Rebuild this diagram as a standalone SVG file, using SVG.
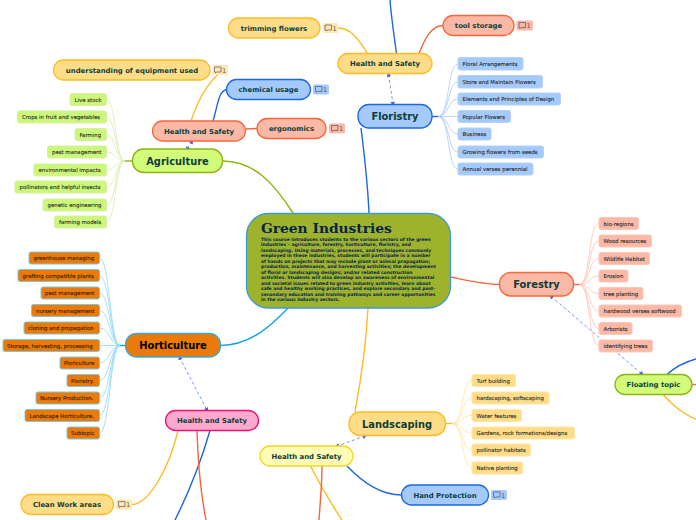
<svg xmlns="http://www.w3.org/2000/svg" width="696" height="520" viewBox="0 0 696 520">
<style>
text{font-family:"DejaVu Sans",Verdana,sans-serif;text-anchor:middle;fill:#0b3d3a}
.m{font-size:6.900px;font-weight:700}
.s{font-size:5.400px;fill:#2a2a2a;text-anchor:start;stroke:#2a2a2a;stroke-width:.1}
#hort-subs .s{fill:#3a1a00;stroke:#3a1a00}
.h{font-size:9.900px;font-weight:700}
.n{stroke-width:1.300}
.sub{stroke-width:1;rx:2}
.c{fill:none;stroke-width:1.400}
.t{fill:none;stroke-width:.8}
.d{fill:none;stroke:#5a78f5;stroke-width:.8;stroke-dasharray:3 2.500;marker-start:url(#a);marker-end:url(#a)}
.b{font-size:6.600px;text-anchor:start;fill:#556}
.y{fill:#ffdd88;stroke:#ffbb22}
.r{fill:#f9b9a6;stroke:#f9653a}
.u{fill:#a4c9fb;stroke:#1c68e0}
.g{fill:#d3fb7a;stroke:#8ab512}
.gs{fill:#cdf77a;stroke:#d6efa0}
.us{fill:#a4c9fb;stroke:#b4d0fb}
.rs{fill:#f9b9a6;stroke:#fbc8b8}
.ys{fill:#ffdd88;stroke:#ffe5a6}
.os{fill:#ea7a0a;stroke:#7cc6de}
.dt{text-anchor:start;fill:#0a1f52}
</style>
<defs>
<marker id="a" viewBox="0 0 6 6" refX="3" refY="3" markerWidth="4.500" markerHeight="4.500" orient="auto-start-reverse" markerUnits="userSpaceOnUse"><path d="M0 0L6 3L0 6Z" fill="#3f5ff0"/></marker>
<g id="ic"><path d="M1.500 1h6.500v5h-4.500l-1 1v-1h-1z" fill="none" stroke="#556" stroke-width=".7"/></g>
</defs>
<g id="connectors">
<g class="c">
<path stroke="#8ab512" d="M222.500 161C255 161 275 185 293 213"/>
<path stroke="#1c68e0" d="M361 128C365 160 368 190 369 213"/>
<path stroke="#12a5e6" d="M220.500 345.500C250 345.500 272 325 288 308"/>
<path stroke="#ffbb22" d="M355 412C360 385 366 345 368 308"/>
<path stroke="#f9653a" d="M450.500 277C470 281 485 284.500 499.500 284.500"/>
<path stroke="#1c68e0" d="M396.500 53.500C394 35 391 15 390 0"/>
<path stroke="#ffbb22" d="M367.500 53.500C358 38 350 28 338 28"/>
<path stroke="#f9653a" d="M419 53.500C425 38 432 25.500 443 25.500"/>
<path stroke="#ffbb22" d="M191 121C198 100 208 82 221 72"/>
<path stroke="#1c68e0" d="M213 121C218 105 218 92 226.500 89.500"/>
<path stroke="#f9653a" d="M245.500 129L257 128.500"/>
<path stroke="#ffbb22" d="M178 430.500C170 465 150 504 132 504.500"/>
<path stroke="#1c68e0" d="M210 430.500C200 465 190 490 175 520"/>
<path stroke="#f9653a" d="M197 430.500C198 465 201 495 206 520"/>
<path stroke="#ffbb22" d="M310.500 466C320 485 332 505 342 520"/>
<path stroke="#f9653a" d="M322 466C322 485 320 505 319 520"/>
<path stroke="#1c68e0" d="M347 466C365 485 382 495 401.500 495"/>
<path stroke="#1c68e0" d="M667 374.500C675 367 685 362 696 359"/>
<path stroke="#f9653a" d="M692 384.500H696"/>
<path stroke="#ffbb22" d="M663 394.500C672 405 685 415 696 419"/>
</g>
<g class="t" stroke="#d5ecb0">
<path d="M125 161C115 161 116 99.500 106.500 99.500M125 161C115 161 116 117 106.500 117M125 161C115 161 116 134.500 106.500 134.500M125 161C115 161 116 152 106.500 152M125 161C115 161 116 170 106.500 170M125 161C115 161 116 187 106.500 187M125 161C115 161 116 205 106.500 205M125 161C115 161 116 222 106.500 222"/>
<path stroke="#8ab512" stroke-width="1.400" d="M125 161H132.500"/>
</g>
<g class="t" stroke="#8fd8f6">
<path d="M120 345.500C110 345.500 110 258 99.500 258M120 345.500C110 345.500 110 275.500 99.500 275.500M120 345.500C110 345.500 110 293 99.500 293M120 345.500C110 345.500 110 310.500 99.500 310.500M120 345.500C110 345.500 110 328 99.500 328M120 345.500H99.500M120 345.500C110 345.500 110 363 99.500 363M120 345.500C110 345.500 110 380.500 99.500 380.500M120 345.500C110 345.500 110 398 99.500 398M120 345.500C110 345.500 110 415.500 99.500 415.500M120 345.500C110 345.500 110 433 99.500 433"/>
<path stroke="#12a5e6" stroke-width="1.400" d="M120 345.500H125.500"/>
</g>
<g class="t" stroke="#a9c9f6">
<path d="M438 116.500C450 116.500 447 64 458 64M438 116.500C450 116.500 447 82 458 82M438 116.500C450 116.500 447 99 458 99M438 116.500H458M438 116.500C450 116.500 447 134 458 134M438 116.500C450 116.500 447 152 458 152M438 116.500C450 116.500 447 169 458 169"/>
<path stroke="#1c68e0" stroke-width="1.400" d="M432 116.500H438"/>
</g>
<g class="t" stroke="#ffe2a0">
<path d="M452 423.500C464 423.500 461 380.500 472 380.500M452 423.500C464 423.500 461 398 472 398M452 423.500C464 423.500 461 415.500 472 415.500M452 423.500C464 423.500 461 433 472 433M452 423.500C464 423.500 461 450 472 450M452 423.500C464 423.500 461 468 472 468"/>
<path stroke="#ffbb22" stroke-width="1.400" d="M445.500 423.500H452"/>
</g>
<g class="t" stroke="#fbc4b2">
<path d="M579 284.500C591 284.500 588 223.500 599 223.500M579 284.500C591 284.500 588 241 599 241M579 284.500C591 284.500 588 258.500 599 258.500M579 284.500C591 284.500 588 276 599 276M579 284.500C591 284.500 588 293.500 599 293.500M579 284.500C591 284.500 588 311 599 311M579 284.500C591 284.500 588 328.500 599 328.500M579 284.500C591 284.500 588 346 599 346"/>
<path stroke="#f9653a" stroke-width="1.400" d="M573.500 284.500H579"/>
</g>
<path class="d" d="M192 141.500L187 149"/>
<path class="d" d="M388.500 74.500L393 104"/>
<path class="d" d="M179.500 357.500L207 410"/>
<path class="d" d="M365 436L337 446"/>
<path class="d" d="M551 296.500L642 374"/>
</g>
<g id="center">
<rect x="246.500" y="213.500" width="204" height="94.500" rx="22" fill="#9db32b" stroke="#3f9bd6" stroke-width="1.300"/>
<text x="261" y="233" style="font-family:'DejaVu Serif',serif;font-size:13.800px;font-weight:700;text-anchor:start;fill:#0a1f52">Green Industries</text>
<g style="font-size:4.460px;font-weight:700" id="desc">
<text class="dt" x="261" y="240.500">This course introduces students to the various sectors of the green</text>
<text class="dt" x="261" y="246">industries – agriculture, forestry, horticulture, floristry, and</text>
<text class="dt" x="261" y="251.500">landscaping. Using materials, processes, and techniques commonly</text>
<text class="dt" x="261" y="257">employed in these industries, students will participate in a number</text>
<text class="dt" x="261" y="262.500">of hands on projects that may include plant or animal propagation;</text>
<text class="dt" x="261" y="268">production, maintenance, and harvesting activities; the development</text>
<text class="dt" x="261" y="273.500">of floral or landscaping designs; and/or related construction</text>
<text class="dt" x="261" y="279">activities. Students will also develop an awareness of environmental</text>
<text class="dt" x="261" y="284.500">and societal issues related to green industry activities, learn about</text>
<text class="dt" x="261" y="290">safe and healthy working practices, and explore secondary and post-</text>
<text class="dt" x="261" y="295.500">secondary education and training pathways and career opportunities</text>
<text class="dt" x="261" y="301">in the various industry sectors.</text>
</g>
</g>
<g id="agriculture"><rect class="n g" x="132.500" y="149" width="90" height="23.500" rx="11"/><text class="h" x="177.500" y="164.800">Agriculture</text></g>
<g id="floristry"><rect class="n u" x="358" y="104.500" width="74" height="23.500" rx="11"/><text class="h" x="395" y="120.300">Floristry</text></g>
<g id="horticulture"><rect class="n" fill="#ea7a0a" stroke="#3fa9d6" x="125.500" y="333.500" width="95" height="23.500" rx="11"/><text class="h" style="fill:#000" x="173" y="349.300">Horticulture</text></g>
<g id="landscaping"><rect class="n y" x="349" y="412" width="96.500" height="23.500" rx="11"/><text class="h" x="397" y="427.800">Landscaping</text></g>
<g id="forestry"><rect class="n r" x="499.500" y="272.500" width="74" height="23.500" rx="11"/><text class="h" x="536.500" y="288.300">Forestry</text></g>
<g id="floating"><rect class="n g" x="615" y="374.500" width="77" height="20" rx="10"/><text class="m" x="653.500" y="387">Floating topic</text></g>
<g id="hs-red"><rect class="n r" x="152.500" y="121" width="93" height="20" rx="10"/><text class="m" x="199" y="133.500">Health and Safety</text></g>
<g id="hs-yellow"><rect class="n y" x="338" y="53.500" width="94" height="20" rx="10"/><text class="m" x="385" y="66">Health and Safety</text></g>
<g id="hs-pink"><rect class="n" fill="#ffaacc" stroke="#ee1177" x="165.500" y="410.500" width="93" height="20" rx="10"/><text class="m" x="212" y="423">Health and Safety</text></g>
<g id="hs-light"><rect class="n" fill="#fffab5" stroke="#f2d81e" x="260" y="446" width="93" height="20" rx="10"/><text class="m" x="306.500" y="458.500">Health and Safety</text></g>
<g id="trimming"><rect class="n y" x="228.500" y="18" width="91.500" height="20" rx="10"/><text class="m" x="274" y="30.500">trimming flowers</text><rect x="323" y="23" width="15" height="10" rx="1.500" fill="#ffe7ae"/><use href="#ic" x="323.500" y="24"/><text class="b" x="332.500" y="30.500">1</text></g>
<g id="understanding"><rect class="n y" x="53.500" y="60" width="156.500" height="20" rx="10"/><text class="m" x="132" y="72.500">understanding of equipment used</text><rect x="212.500" y="65" width="15.500" height="10" rx="1.500" fill="#ffe7ae"/><use href="#ic" x="213" y="66"/><text class="b" x="222" y="72.500">1</text></g>
<g id="chemical"><rect class="n u" x="226.500" y="79.500" width="84" height="20" rx="10"/><text class="m" x="268.500" y="92">chemical usage</text><rect x="313" y="84.500" width="16" height="10" rx="1.500" fill="#a4c9fb"/><use href="#ic" x="314" y="85.500"/><text class="b" x="323" y="92">1</text></g>
<g id="ergonomics"><rect class="n r" x="257" y="118.500" width="69" height="20" rx="10"/><text class="m" x="291.500" y="131">ergonomics</text><rect x="329" y="123.500" width="16" height="10" rx="1.500" fill="#f9b9a6"/><use href="#ic" x="330" y="124.500"/><text class="b" x="339" y="131">1</text></g>
<g id="tool"><rect class="n r" x="443" y="15.500" width="71" height="20" rx="10"/><text class="m" x="478.500" y="28">tool storage</text><rect x="516.500" y="20.500" width="16.500" height="10" rx="1.500" fill="#f9b9a6"/><use href="#ic" x="517.500" y="21.500"/><text class="b" x="526.500" y="28">1</text></g>
<g id="hand"><rect class="n u" x="401.500" y="485" width="87" height="20" rx="10"/><text class="m" x="445" y="497.500">Hand Protection</text><rect x="491" y="490" width="16" height="10" rx="1.500" fill="#a4c9fb"/><use href="#ic" x="492" y="491"/><text class="b" x="501" y="497.500">1</text></g>
<g id="clean"><rect class="n y" x="21" y="494.500" width="92.500" height="20" rx="10"/><text class="m" x="67" y="507">Clean Work areas</text><rect x="116" y="499.500" width="16" height="10" rx="1.500" fill="#ffe7ae"/><use href="#ic" x="117" y="500.500"/><text class="b" x="126" y="507">1</text></g>
<g id="agri-subs">
<rect class="sub gs" x="70" y="93.500" width="36.500" height="12"/><text class="s" x="74.500" y="102">Live stock</text>
<rect class="sub gs" x="17.500" y="111" width="89" height="12"/><text class="s" x="22" y="119">Crops in fruit and vegetables</text>
<rect class="sub gs" x="75" y="128.500" width="31.500" height="12"/><text class="s" x="79.500" y="137">Farming</text>
<rect class="sub gs" x="47.500" y="146" width="59" height="12"/><text class="s" x="52" y="154">pest management</text>
<rect class="sub gs" x="34" y="164" width="72.500" height="12"/><text class="s" x="38.500" y="172">environmental impacts</text>
<rect class="sub gs" x="15" y="181" width="91.500" height="12"/><text class="s" x="19.500" y="189">pollinators and helpful insects</text>
<rect class="sub gs" x="43" y="199" width="63.500" height="12"/><text class="s" x="47.500" y="207">genetic engineering</text>
<rect class="sub gs" x="54.500" y="216" width="52" height="12"/><text class="s" x="59" y="224">farming models</text>
</g>
<g id="flor-subs">
<rect class="sub us" x="458" y="57.500" width="65" height="12.500"/><text class="s" x="462.500" y="66">Floral Arrangements</text>
<rect class="sub us" x="458" y="75.500" width="84.500" height="12.500"/><text class="s" x="462.500" y="84">Store and Maintain Flowers</text>
<rect class="sub us" x="458" y="93" width="102.500" height="12"/><text class="s" x="462.500" y="101">Elements and Principles of Design</text>
<rect class="sub us" x="458" y="110.500" width="52.500" height="12"/><text class="s" x="462.500" y="119">Popular Flowers</text>
<rect class="sub us" x="458" y="128" width="33" height="12"/><text class="s" x="462.500" y="136">Business</text>
<rect class="sub us" x="458" y="146" width="85.500" height="12"/><text class="s" x="462.500" y="154">Growing flowers from seeds</text>
<rect class="sub us" x="458" y="163" width="75" height="12"/><text class="s" x="462.500" y="171">Annual verses perennial</text>
</g>
<g id="hort-subs">
<rect class="sub os" x="29" y="252" width="70.500" height="12"/><text class="s" x="33.500" y="260">greenhouse managing</text>
<rect class="sub os" x="18" y="269.500" width="81.500" height="12"/><text class="s" x="22.500" y="278">grafting compatible plants</text>
<rect class="sub os" x="41" y="287" width="58.500" height="12"/><text class="s" x="45" y="295">pest management</text>
<rect class="sub os" x="31.500" y="304.500" width="68" height="12"/><text class="s" x="36" y="313">nursery management</text>
<rect class="sub os" x="24" y="322" width="75.500" height="12"/><text class="s" x="28" y="330">cloning and propagation</text>
<rect class="sub os" x="3" y="339.500" width="96.500" height="12"/><text class="s" x="7" y="348">Storage, harvesting, processing</text>
<rect class="sub os" x="60" y="357" width="39.500" height="12"/><text class="s" x="64" y="365">Floriculture</text>
<rect class="sub os" x="67" y="374.500" width="32.500" height="12"/><text class="s" x="71" y="383">Floristry.</text>
<rect class="sub os" x="36" y="392" width="63.500" height="12"/><text class="s" x="40" y="400">Nursery Production.</text>
<rect class="sub os" x="25" y="409.500" width="74.500" height="12"/><text class="s" x="29.500" y="418">Landscape Horticulture.</text>
<rect class="sub os" x="67" y="427" width="32.500" height="12"/><text class="s" x="71" y="435">Subtopic</text>
</g>
<g id="land-subs">
<rect class="sub ys" x="472" y="374.500" width="43.500" height="12"/><text class="s" x="476.500" y="383">Turf building</text>
<rect class="sub ys" x="472" y="392" width="77" height="12"/><text class="s" x="476.500" y="400">hardscaping, softscaping</text>
<rect class="sub ys" x="472" y="409.500" width="49.500" height="12"/><text class="s" x="476.500" y="418">Water features</text>
<rect class="sub ys" x="472" y="427" width="102.500" height="12"/><text class="s" x="476.500" y="435">Gardens, rock formations/designs</text>
<rect class="sub ys" x="472" y="444" width="58.500" height="12"/><text class="s" x="476.500" y="452">pollinator habitats</text>
<rect class="sub ys" x="472" y="462" width="50.500" height="12"/><text class="s" x="476.500" y="470">Native planting</text>
</g>
<g id="forest-subs">
<rect class="sub rs" x="599" y="217.500" width="39.500" height="12"/><text class="s" x="603.500" y="226">bio-regions</text>
<rect class="sub rs" x="599" y="235" width="52.500" height="12"/><text class="s" x="603.500" y="243">Wood resources</text>
<rect class="sub rs" x="599" y="252.500" width="50.500" height="12"/><text class="s" x="603.500" y="261">Wildlife Habitat</text>
<rect class="sub rs" x="599" y="270" width="29" height="12"/><text class="s" x="603.500" y="278">Erosion</text>
<rect class="sub rs" x="599" y="287.500" width="44" height="12"/><text class="s" x="603.500" y="296">tree planting</text>
<rect class="sub rs" x="599" y="305" width="82.500" height="12"/><text class="s" x="603.500" y="313">hardwood verses softwood</text>
<rect class="sub rs" x="599" y="322.500" width="33" height="12"/><text class="s" x="603.500" y="331">Arborists</text>
<rect class="sub rs" x="599" y="340" width="53.500" height="12"/><text class="s" x="603.500" y="348">identifying trees</text>
</g>
</svg>
